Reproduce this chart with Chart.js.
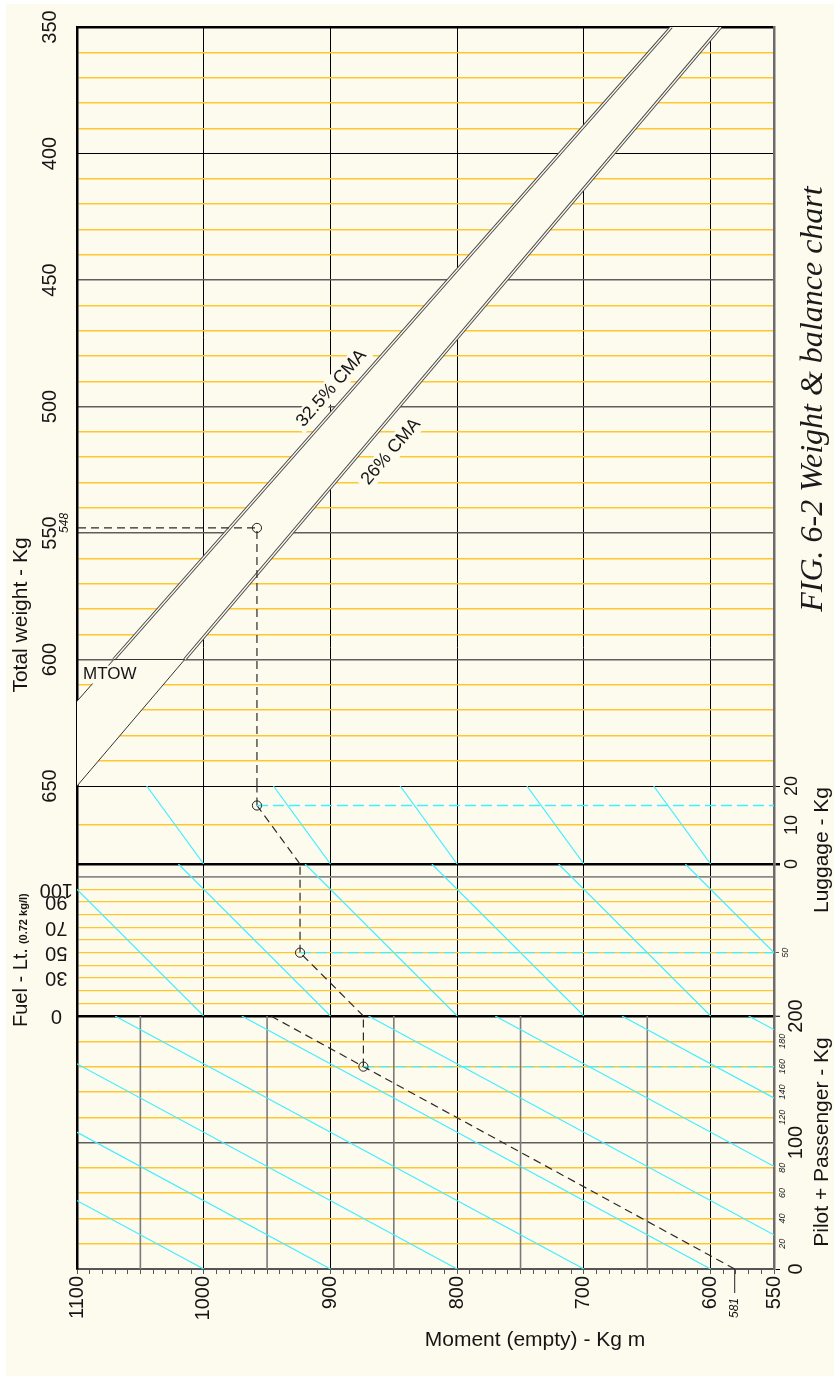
<!DOCTYPE html>
<html>
<head>
<meta charset="utf-8">
<title>FIG. 6-2 Weight &amp; balance chart</title>
<script src="https://cdn.jsdelivr.net/npm/chart.js@4.4.1/dist/chart.umd.min.js"></script>
<style>
  html, body { margin: 0; padding: 0; background: #fff; }
  canvas { display: block; }
</style>
</head>
<body>
<canvas id="wb" width="834" height="1376"></canvas>
<script>
// ---- values ----
const momentLabels = [1100, 1000, 900, 800, 700, 600, 550];
const weightLabels = [350, 400, 450, 500, 550, 600, 650];
const luggageLabels = [0, 10, 20];
const fuelLabels = [0, 30, 50, 70, 90, 100];
const pilotLabels = [0, 100, 200];
const pilotSmallLabels = [20, 40, 60, 80, 120, 140, 160, 180];

// CMA limit lines as [moment, total weight]
const cma26 = [[1100, 650], [1015, 600], [592, 350]];
const cma325 = [[1100, 616.5], [1071, 600], [631, 350]];
const mtow = 600;

// loading lines: moment at the top edge of the panel -> moment at zero load
const luggageTop = [1045, 945, 845, 745, 645];
const luggageZero = [1000, 900, 800, 700, 600];
const fuelTop = [1120, 1020, 920, 820, 720, 620];
const fuelZero = [1000, 900, 800, 700, 600, 500];
const pilotTop = [1370, 1270, 1170, 1070, 970, 870, 770, 670, 570];
const pilotZero = [1000, 900, 800, 700, 600, 500, 400, 300, 200];
const pilotGrid50 = [1050, 950, 850, 750, 650];

// worked example (empty moment 581, 160 kg crew, 50 l fuel, 15 kg luggage)
const exampleEmpty = 581;
const examplePilot = [[581, 0], [874, 160], [947, 200]];
const exampleFuel = [[874, 0], [924, 50]];
const exampleLuggage = [[924, 0], [958, 15]];
const exampleWeight = [[958, 650], [958, 548], [1100, 548]];
const exampleTotal = 548;

const CREAM = '#fdfbee';
const YELLOW = '#ffc72c';
const CYAN = '#44eeff';
const INK = '#151515';
const CLEAR = 'rgba(0,0,0,0)';
const SANS = '"Liberation Sans", Arial, sans-serif';
const SERIF = '"Liberation Serif", "Times New Roman", serif';

Chart.defaults.font.family = SANS;

function range(a, b, step) {
    const out = [];
    for (let v = a; v <= b; v += step) out.push(v);
    return out;
}
const xy = pairs => pairs.map(([x, y]) => ({ x: x, y: y }));
const useTicks = vals => scale => { scale.ticks = vals.map(v => ({ value: v })); };
const fitWidth = w => scale => { scale.width = w; };

// ---- datasets (first added is drawn first) ----
const datasets = [];
function add(axis, points, style) {
    datasets.push(Object.assign({
        yAxisID: axis, data: xy(points), showLine: true, pointRadius: 0,
        borderColor: INK, borderWidth: 1, fill: false, tension: 0,
        order: -datasets.length
    }, style));
}

// the yellow grid is left out inside the CMA band
add('yW', cma325.concat(cma26.slice().reverse()),
    { fill: 'shape', backgroundColor: CREAM, borderWidth: 0, borderColor: CLEAR });

pilotGrid50.forEach(m => add('yP', [[m, 0], [m, 200]], { borderColor: '#7a7a7a', borderWidth: 1.6 }));

const cyan = { borderColor: CYAN, borderWidth: 1.2 };
luggageTop.forEach((t, i) => add('yL', [[t, 20], [luggageZero[i], 0]], cyan));
fuelTop.forEach((t, i) => add('yF', [[t, 120], [fuelZero[i], 0]], cyan));
pilotTop.forEach((t, i) => add('yP', [[t, 200], [pilotZero[i], 0]], cyan));

add('yW', cma26.slice(0, 2), { borderColor: '#333' });
add('yW', cma325.slice(0, 2), { borderColor: '#333' });
[cma26.slice(1), cma325.slice(1)].forEach(seg => {
    add('yW', seg, { borderColor: '#4a4a4a', borderWidth: 3.4 });
    add('yW', seg, { borderColor: CREAM, borderWidth: 1.3 });
});
add('yW', [[cma325[1][0], mtow], [cma26[1][0], mtow]], { borderColor: '#333' });

const dash = { borderColor: '#2a2a2a', borderWidth: 1.2, borderDash: [8, 5] };
const cyanDash = { borderColor: CYAN, borderWidth: 1.4, borderDash: [11, 5] };
add('yP', examplePilot, dash);
add('yP', [examplePilot[1], [examplePilot[1][0], 200]], dash);
add('yF', exampleFuel, dash);
add('yF', [exampleFuel[1], [exampleFuel[1][0], 120]], dash);
add('yL', exampleLuggage, dash);
add('yL', [exampleLuggage[1], [exampleLuggage[1][0], 20]], dash);
add('yW', exampleWeight, dash);
add('yL', [exampleLuggage[1], [550, exampleLuggage[1][1]]], cyanDash);
add('yF', [exampleFuel[1], [550, exampleFuel[1][1]]], cyanDash);
add('yP', [examplePilot[1], [550, examplePilot[1][1]]], cyanDash);
[['yP', examplePilot[1]], ['yF', exampleFuel[1]], ['yL', exampleLuggage[1]], ['yW', exampleWeight[1]]]
    .forEach(([axis, p]) => add(axis, [p], {
        showLine: false, pointRadius: 4.6, pointBorderColor: '#222',
        pointBackgroundColor: CLEAR, pointBorderWidth: 1
    }));

// ---- text drawn on top ----
function label(ctx, str, x, y, angle, font, opts) {
    opts = opts || {};
    ctx.save();
    ctx.translate(x, y);
    ctx.rotate(angle);
    ctx.font = font;
    ctx.textAlign = opts.align || 'center';
    ctx.textBaseline = opts.baseline || 'middle';
    if (opts.mask) {
        const w = ctx.measureText(str).width;
        const h = opts.mask;
        ctx.fillStyle = CREAM;
        ctx.fillRect(ctx.textAlign === 'left' ? -3 : -w / 2 - 4, -h / 2, w + 8, h);
    }
    ctx.fillStyle = opts.color || INK;
    ctx.fillText(str, 0, 0);
    ctx.restore();
}

const paper = {
    id: 'paper',
    beforeDraw(chart) {
        const ctx = chart.ctx;
        ctx.save();
        ctx.fillStyle = '#fff';
        ctx.fillRect(0, 0, chart.width, chart.height);
        ctx.fillStyle = CREAM;
        ctx.fillRect(6, 4, chart.width - 6, chart.height - 4);
        ctx.restore();
    },
    afterDraw(chart) {
        const ctx = chart.ctx;
        const s = chart.scales;
        const up = -Math.PI / 2;
        const px = (line, i) => ({ x: s.x.getPixelForValue(line[i][0]), y: s.yW.getPixelForValue(line[i][1]) });
        const at = (line, w) => {
            const a = line[1], b = line[2];
            const m = a[0] + (b[0] - a[0]) * (w - a[1]) / (b[1] - a[1]);
            return { x: s.x.getPixelForValue(m), y: s.yW.getPixelForValue(w) };
        };

        // CMA line labels, set along the lines
        [[cma325, '32.5% CMA', 497, 16], [cma26, '26% CMA', 512, -23]].forEach(([line, txt, w, off]) => {
            const a = px(line, 1), b = px(line, 2);
            const ang = Math.atan2(b.y - a.y, b.x - a.x);
            const nx = Math.sin(ang), ny = -Math.cos(ang);
            const p = at(line, w);
            label(ctx, txt, p.x + off * nx, p.y + off * ny, ang, '18px ' + SANS, { mask: 20 });
        });
        label(ctx, 'MTOW', s.x.getPixelForValue(1100) + 6, s.yW.getPixelForValue(mtow) + 15, 0,
            '17px ' + SANS, { align: 'left', mask: 18 });

        // example values
        label(ctx, String(exampleTotal), 65, s.yW.getPixelForValue(exampleTotal) - 5, up, 'italic 12px ' + SANS);
        const ex = s.x.getPixelForValue(exampleEmpty);
        const bottom = chart.chartArea.bottom;
        ctx.save();
        ctx.strokeStyle = '#222';
        ctx.lineWidth = 1;
        ctx.beginPath();
        ctx.moveTo(ex, bottom);
        ctx.lineTo(ex, bottom + 24);
        ctx.stroke();
        ctx.restore();
        label(ctx, String(exampleEmpty), ex, bottom + 39, up, 'italic 12px ' + SANS);

        pilotSmallLabels.forEach(v =>
            label(ctx, String(v), 782, s.yP.getPixelForValue(v), up, 'italic 9px ' + SANS));

        // axis titles
        label(ctx, 'Total weight - Kg', 27, 615, up, '21px ' + SANS, { baseline: 'alphabetic' });
        ctx.save();
        ctx.font = '20px ' + SANS;
        const fw = ctx.measureText('Fuel - Lt.').width;
        ctx.restore();
        label(ctx, 'Fuel - Lt.', 27, 1027, up, '20px ' + SANS, { align: 'left', baseline: 'alphabetic' });
        label(ctx, '(0.72 kg/l)', 27, 1027 - fw - 4, up, 'bold 11px ' + SANS, { align: 'left', baseline: 'alphabetic' });
        label(ctx, 'Luggage - Kg', 828, 850, up, '21px ' + SANS, { baseline: 'alphabetic' });
        label(ctx, 'Pilot + Passenger - Kg', 828, 1142, up, '21px ' + SANS, { baseline: 'alphabetic' });
        label(ctx, 'Moment (empty) - Kg m', 535, 1346, 0, '21px ' + SANS, { baseline: 'alphabetic' });
        label(ctx, 'FIG. 6-2 Weight & balance chart', 822, 399, up, 'italic 32px ' + SERIF,
            { baseline: 'alphabetic', color: '#1a1a1a' });
    }
};

// ---- scales ----
const rightBorder = { color: '#6c6c6c', width: 2.5 };
const leftBorder = { color: '#000', width: 2.5 };
const vTick = (size, extra) => Object.assign({
    autoSkip: false, minRotation: 90, maxRotation: 90, crossAlign: 'center',
    color: INK, font: { family: SANS, size: size }
}, extra);

new Chart(document.getElementById('wb'), {
    type: 'scatter',
    data: { datasets: datasets },
    options: {
        responsive: false,
        animation: false,
        events: [],
        layout: { padding: { top: 27, left: 0, right: 0, bottom: 0 } },
        plugins: { legend: { display: false }, tooltip: { enabled: false } },
        scales: {
            x: {
                type: 'linear', position: 'bottom', reverse: true, min: 550, max: 1100, z: 1,
                afterBuildTicks: useTicks(range(550, 1100, 10)),
                afterFit: s => { s.height = 107; },
                ticks: {
                    autoSkip: false, minRotation: 90, maxRotation: 90, padding: 2, color: INK,
                    font: { family: SANS, size: 20 },
                    callback: v => momentLabels.includes(v) ? String(v) : ''
                },
                grid: {
                    color: c => (c.tick.value % 100 === 0 && c.tick.value !== 1100) ? '#000' : CLEAR,
                    lineWidth: 1, tickLength: 5, tickColor: '#555', tickWidth: 1
                },
                border: { color: '#555', width: 2 }
            },
            // left stack: weight, luggage, fuel, pilot + passenger
            yW: {
                type: 'linear', position: 'left', stack: 'side', stackWeight: 759, weight: 4,
                min: 350, max: 650, reverse: true,
                afterBuildTicks: useTicks(range(350, 650, 10)), afterFit: fitWidth(77),
                ticks: vTick(20, { padding: 10, callback: v => weightLabels.includes(v) ? String(v) : '' }),
                grid: { drawTicks: false, color: c => c.tick.value % 50 === 0 ? CLEAR : YELLOW, lineWidth: 1.4 },
                border: leftBorder
            },
            yL: {
                type: 'linear', position: 'left', stack: 'side', stackWeight: 78, weight: 3,
                min: 0, max: 20,
                afterBuildTicks: useTicks(luggageLabels), afterFit: fitWidth(77),
                ticks: { display: false },
                grid: { drawTicks: false, color: c => c.tick.value === 10 ? YELLOW : CLEAR, lineWidth: 1.4 },
                border: leftBorder
            },
            yF: {
                type: 'linear', position: 'left', stack: 'side', stackWeight: 152, weight: 2,
                min: 0, max: 120,
                afterBuildTicks: useTicks(range(0, 120, 10)), afterFit: fitWidth(77),
                ticks: {
                    autoSkip: false, minRotation: 180, maxRotation: 180, crossAlign: 'center', padding: 4,
                    color: INK, font: { family: SANS, size: 20 },
                    callback: v => fuelLabels.includes(v) ? String(v) : ''
                },
                grid: {
                    drawTicks: false,
                    color: c => c.tick.value === 110 ? '#8a8a8a' : (c.tick.value % 120 === 0 ? CLEAR : YELLOW),
                    lineWidth: c => c.tick.value === 110 ? 1.7 : 1.3
                },
                border: leftBorder
            },
            yP: {
                type: 'linear', position: 'left', stack: 'side', stackWeight: 253, weight: 1,
                min: 0, max: 200,
                afterBuildTicks: useTicks(range(0, 200, 20)), afterFit: fitWidth(77),
                ticks: { display: false },
                grid: { drawTicks: false, color: c => c.tick.value % 100 === 0 ? CLEAR : YELLOW, lineWidth: 1.4 },
                border: leftBorder
            },
            // right stack: major lines and right-hand scales
            yWR: {
                type: 'linear', position: 'right', stack: 'side', stackWeight: 759, weight: 1, z: 1,
                min: 350, max: 650, reverse: true,
                afterBuildTicks: useTicks(range(350, 650, 50)), afterFit: fitWidth(60),
                ticks: { display: false },
                grid: {
                    drawTicks: false,
                    color: c => [350, 400, 650].includes(c.tick.value) ? '#000' : '#5e5e5e',
                    lineWidth: c => c.tick.value === 350 ? 2.5 : ([400, 650].includes(c.tick.value) ? 1 : 1.6)
                },
                border: rightBorder
            },
            yLR: {
                type: 'linear', position: 'right', stack: 'side', stackWeight: 78, weight: 2, z: 1,
                min: 0, max: 20,
                afterBuildTicks: useTicks(luggageLabels), afterFit: fitWidth(60),
                ticks: vTick(18, { padding: 2, callback: v => String(v) }),
                grid: {
                    color: c => c.tick.value === 0 ? '#000' : CLEAR,
                    lineWidth: c => c.tick.value === 0 ? 2.5 : 1,
                    tickLength: 6,
                    tickColor: c => c.tick.value === 10 ? CLEAR : '#000'
                },
                border: rightBorder
            },
            yFR: {
                type: 'linear', position: 'right', stack: 'side', stackWeight: 152, weight: 3, z: 1,
                min: 0, max: 120,
                afterBuildTicks: useTicks([exampleFuel[1][1]]), afterFit: fitWidth(60),
                ticks: vTick(9, { padding: 1, font: { family: SANS, size: 9, style: 'italic' }, callback: v => String(v) }),
                grid: { color: CLEAR, tickLength: 5, tickColor: '#555', tickWidth: 1 },
                border: rightBorder
            },
            yPR: {
                type: 'linear', position: 'right', stack: 'side', stackWeight: 253, weight: 4, z: 1,
                min: 0, max: 200,
                afterBuildTicks: useTicks(range(0, 200, 20)), afterFit: fitWidth(60),
                ticks: vTick(20, { padding: 0, callback: v => pilotLabels.includes(v) ? String(v) : '' }),
                grid: {
                    color: c => c.tick.value === 200 ? '#000' : (c.tick.value === 100 ? '#5e5e5e' : CLEAR),
                    lineWidth: c => c.tick.value === 200 ? 2.5 : (c.tick.value === 100 ? 1.6 : 1),
                    tickLength: 6,
                    tickColor: c => (c.tick.value === 0 || c.tick.value === 200) ? '#000' : CLEAR,
                    tickWidth: 1
                },
                border: rightBorder
            }
        }
    },
    plugins: [paper]
});
</script>
</body>
</html>
